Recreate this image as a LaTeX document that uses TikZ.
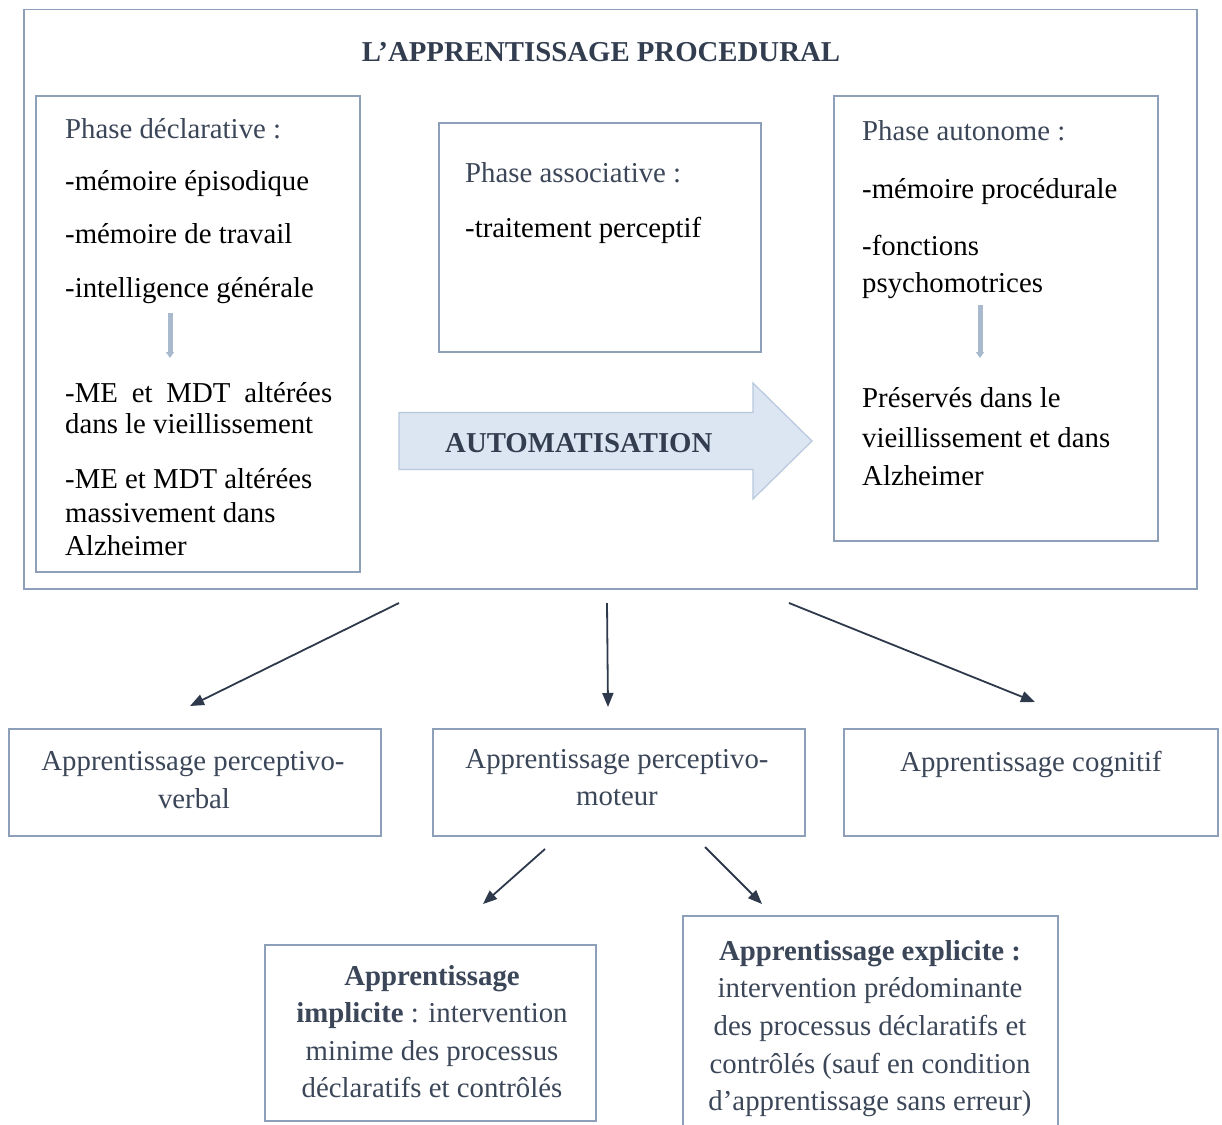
\documentclass[tikz,border=0pt]{standalone}
\usepackage{fontspec}
\setmainfont{Liberation Serif}
\usetikzlibrary{arrows.meta}
\definecolor{slate}{HTML}{3B4658}
\definecolor{titlec}{HTML}{323E50}
\definecolor{boxc}{HTML}{8E9FBA}
\definecolor{afill}{HTML}{DCE6F2}
\definecolor{adraw}{HTML}{B8C8DC}
\definecolor{inarr}{HTML}{A9B9CE}
\definecolor{linkc}{HTML}{2E3A4C}
\newcommand\fsz{\fontsize{28.8pt}{37.5pt}\selectfont}
\begin{document}
\begin{tikzpicture}[x=1pt,y=-1pt,
  frame/.style={draw=boxc, line width=1.5pt, anchor=north west, inner sep=0pt},
  txt/.style={anchor=base west, inner sep=0pt, font=\fsz, text=black},
  head/.style={txt, text=slate},
  ctxt/.style={anchor=base, inner sep=0pt, font=\fsz, text=slate},
  link/.style={draw=linkc, line width=1.8pt, -{Triangle[length=14pt,width=11pt]}},
  inarrow/.style={draw=inarr, line width=5pt, -{Triangle[length=6pt,width=8pt]}}]
\useasboundingbox (0,0) rectangle (1222,1124);
\clip (0,0) rectangle (1222,1124);
\fill[white] (0,0) rectangle (1222,1124);

% frames
\node[frame, minimum width=1173pt, minimum height=579pt] (outer) at (23,9) {};
\node[frame, minimum width=324pt, minimum height=476pt] (left) at (35,95) {};
\node[frame, minimum width=322pt, minimum height=229pt] (mid) at (438,122) {};
\node[frame, minimum width=324pt, minimum height=445pt] (right) at (833,95) {};
\node[frame, minimum width=372pt, minimum height=107pt] (b1) at (8,728) {};
\node[frame, minimum width=372pt, minimum height=107pt] (b2) at (432,728) {};
\node[frame, minimum width=374pt, minimum height=107pt] (b3) at (843,728) {};
\node[frame, minimum width=331pt, minimum height=176pt] (b4) at (264,944) {};
\node[frame, minimum width=375pt, minimum height=240pt] (b5) at (682,915) {};

% title
\node[anchor=base, inner sep=0pt, font=\fsz\bfseries, text=titlec] (title) at (601,62) {L’APPRENTISSAGE PROCEDURAL};

% left box
\node[head] (ld0) at (65,138) {Phase déclarative :};
\node[txt] (ld1) at (65,190) {-mémoire épisodique};
\node[txt] (ld2) at (65,243) {-mémoire de travail};
\node[txt] (ld3) at (65,297) {-intelligence générale};
\node[txt] (ld4) at (65,402) {\makebox[267pt][s]{-ME et MDT altérées}};
\node[txt] (ld5) at (65,433) {dans le vieillissement};
\node[txt] (ld6) at (65,488) {-ME et MDT altérées};
\node[txt] (ld7) at (65,522) {massivement dans};
\node[txt] (ld8) at (65,555) {Alzheimer};
\coordinate (la1) at (170,313);
\coordinate (la2) at (170,358);
\draw[inarrow] (la1) -- (la2);

% middle box
\node[head] (md0) at (465,182) {Phase associative :};
\node[txt] (md1) at (465,237) {-traitement perceptif};

% right box
\node[head] (rd0) at (862,140) {Phase autonome :};
\node[txt] (rd1) at (862,198) {-mémoire procédurale};
\node[txt] (rd2) at (862,255) {-fonctions};
\node[txt] (rd3) at (862,292) {psychomotrices};
\coordinate (ra1) at (980,305);
\coordinate (ra2) at (980,358);
\draw[inarrow] (ra1) -- (ra2);
\node[txt] (rd4) at (862,407) {Préservés dans le};
\node[txt] (rd5) at (862,447) {vieillissement et dans};
\node[txt] (rd6) at (862,485) {Alzheimer};

% big arrow
\draw[fill=afill, draw=adraw, line width=1.2pt]
  (399,412.5) -- (753,412.5) -- (753,383) -- (812,441) -- (753,499) -- (753,469.5) -- (399,469.5) -- cycle;
\node[anchor=base west, inner sep=0pt, font=\fsz\bfseries, text=titlec] (auto) at (445,452) {AUTOMATISATION};

% connectors
\coordinate (c1s) at (399,603); \coordinate (c1e) at (190,706);
\coordinate (c2s) at (607,603); \coordinate (c2e) at (608,707);
\coordinate (c3s) at (789,603); \coordinate (c3e) at (1035,702);
\coordinate (c4s) at (545,849); \coordinate (c4e) at (483,904);
\coordinate (c5s) at (705,847); \coordinate (c5e) at (762,904);
\draw[link] (c1s) -- (c1e);
\draw[link] (c2s) -- (c2e);
\draw[link] (c3s) -- (c3e);
\draw[link] (c4s) -- (c4e);
\draw[link] (c5s) -- (c5e);

% bottom boxes text
\node[ctxt] (t1a) at (193,770) {Apprentissage perceptivo-};
\node[ctxt] (t1b) at (194,808) {verbal};
\node[ctxt] (t2a) at (617,768) {Apprentissage perceptivo-};
\node[ctxt] (t2b) at (617,805) {moteur};
\node[ctxt] (t3a) at (1031,771) {Apprentissage cognitif};
\node[ctxt] (t4a) at (432,985) {\bfseries Apprentissage};
\node[ctxt] (t4b) at (432,1022) {\textbf{implicite} : intervention};
\node[ctxt] (t4c) at (432,1060) {minime des processus};
\node[ctxt] (t4d) at (432,1097) {déclaratifs et contrôlés};
\node[ctxt] (t5a) at (870,960) {\bfseries Apprentissage explicite :};
\node[ctxt] (t5b) at (870,997) {intervention prédominante};
\node[ctxt] (t5c) at (870,1035) {des processus déclaratifs et};
\node[ctxt] (t5d) at (870,1073) {contrôlés (sauf en condition};
\node[ctxt] (t5e) at (870,1110) {d’apprentissage sans erreur)};
\end{tikzpicture}
\end{document}
